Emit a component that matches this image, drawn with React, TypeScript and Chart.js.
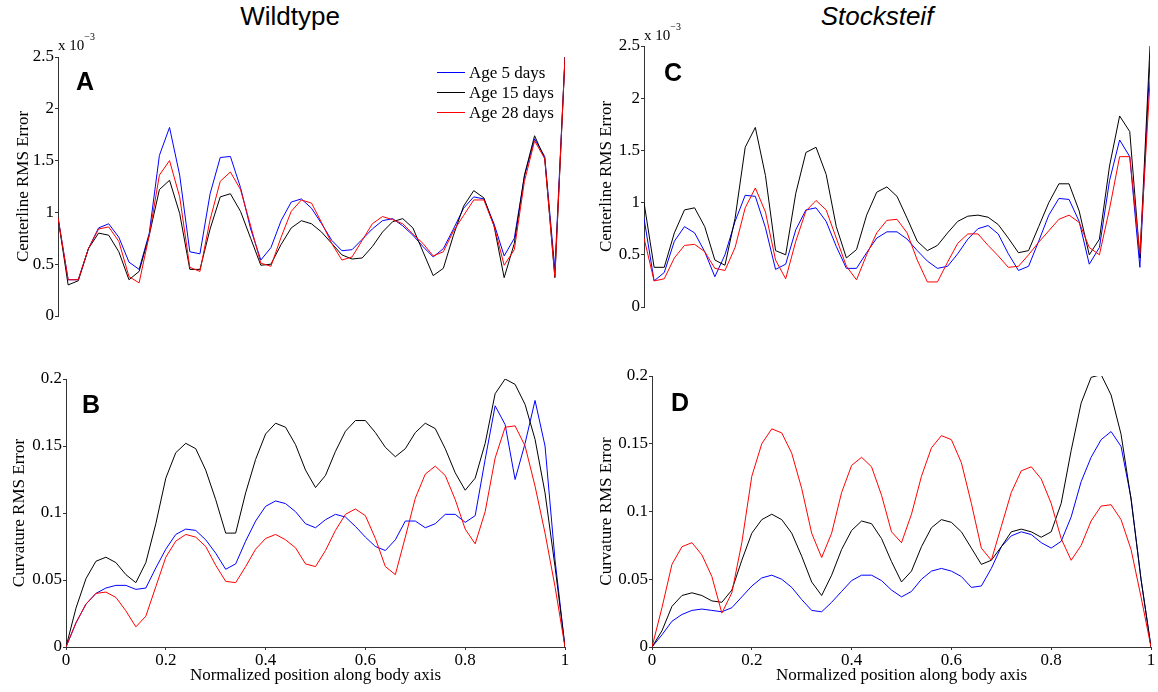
import React, { useEffect, useRef } from "react";
import { Chart, registerables } from "chart.js";

Chart.register(...registerables);

// Normalized position along body axis (x values of every series)
const positions = [
  0, 0.02, 0.04, 0.06, 0.08, 0.1, 0.12, 0.14, 0.16, 0.18,
  0.2, 0.22, 0.24, 0.26, 0.28, 0.3, 0.32, 0.34, 0.36, 0.38,
  0.4, 0.42, 0.44, 0.46, 0.48, 0.5, 0.52, 0.54, 0.56, 0.58,
  0.6, 0.62, 0.64, 0.66, 0.68, 0.7, 0.72, 0.74, 0.76, 0.78,
  0.8, 0.82, 0.84, 0.86, 0.88, 0.9, 0.92, 0.94, 0.96, 0.98, 1,
];

const seriesLabels = ["Age 5 days", "Age 15 days", "Age 28 days"];

// Panel A: Wildtype, centerline RMS error (x 10^-3)
const wtCenterAge5 = [
  0.95, 0.35, 0.35, 0.65, 0.85, 0.89, 0.76, 0.52, 0.45, 0.80,
  1.55, 1.82, 1.36, 0.62, 0.60, 1.18, 1.53, 1.54, 1.24, 0.84,
  0.54, 0.66, 0.92, 1.10, 1.13, 1.04, 0.89, 0.73, 0.63, 0.64,
  0.74, 0.84, 0.92, 0.94, 0.87, 0.78, 0.67, 0.57, 0.65, 0.84,
  1.04, 1.15, 1.13, 0.89, 0.58, 0.75, 1.35, 1.71, 1.54, 0.45, 2.5,
];
const wtCenterAge15 = [
  0.95, 0.30, 0.34, 0.65, 0.80, 0.78, 0.62, 0.35, 0.43, 0.78,
  1.22, 1.31, 0.99, 0.45, 0.45, 0.84, 1.15, 1.18, 1.01, 0.75,
  0.49, 0.50, 0.69, 0.85, 0.92, 0.89, 0.81, 0.70, 0.59, 0.55,
  0.56, 0.67, 0.81, 0.91, 0.94, 0.85, 0.62, 0.39, 0.46, 0.78,
  1.06, 1.21, 1.14, 0.87, 0.37, 0.70, 1.36, 1.74, 1.52, 0.37, 2.5,
];
const wtCenterAge28 = [
  0.95, 0.35, 0.35, 0.65, 0.84, 0.86, 0.72, 0.38, 0.32, 0.78,
  1.36, 1.50, 1.15, 0.47, 0.43, 0.93, 1.30, 1.39, 1.22, 0.87,
  0.51, 0.48, 0.76, 1.01, 1.12, 1.09, 0.90, 0.70, 0.54, 0.57,
  0.73, 0.89, 0.96, 0.93, 0.89, 0.79, 0.70, 0.58, 0.62, 0.82,
  0.97, 1.12, 1.12, 0.87, 0.49, 0.64, 1.30, 1.69, 1.52, 0.38, 2.5,
];

// Panel B: Wildtype, curvature RMS error
const wtCurvAge5 = [
  0, 0.018, 0.032, 0.040, 0.044, 0.046, 0.046, 0.043, 0.044, 0.059,
  0.073, 0.084, 0.088, 0.087, 0.080, 0.070, 0.058, 0.062, 0.079, 0.094,
  0.105, 0.109, 0.107, 0.101, 0.092, 0.089, 0.095, 0.099, 0.097, 0.090,
  0.082, 0.075, 0.072, 0.080, 0.094, 0.094, 0.089, 0.092, 0.099, 0.099,
  0.093, 0.098, 0.140, 0.180, 0.166, 0.125, 0.152, 0.184, 0.150, 0.065, 0,
];
const wtCurvAge15 = [
  0, 0.029, 0.051, 0.064, 0.067, 0.063, 0.054, 0.048, 0.063, 0.092,
  0.126, 0.145, 0.152, 0.148, 0.132, 0.110, 0.085, 0.085, 0.115, 0.140,
  0.159, 0.167, 0.164, 0.151, 0.132, 0.119, 0.128, 0.146, 0.161, 0.169,
  0.169, 0.160, 0.149, 0.142, 0.148, 0.160, 0.167, 0.163, 0.148, 0.130,
  0.117, 0.126, 0.152, 0.189, 0.200, 0.196, 0.181, 0.155, 0.115, 0.060, 0,
];
const wtCurvAge28 = [
  0, 0.018, 0.032, 0.040, 0.041, 0.037, 0.027, 0.015, 0.023, 0.045,
  0.067, 0.079, 0.084, 0.082, 0.075, 0.061, 0.049, 0.048, 0.060, 0.073,
  0.081, 0.084, 0.080, 0.074, 0.062, 0.060, 0.072, 0.087, 0.099, 0.103,
  0.098, 0.081, 0.060, 0.054, 0.082, 0.111, 0.129, 0.135, 0.128, 0.110,
  0.088, 0.077, 0.101, 0.141, 0.164, 0.165, 0.150, 0.120, 0.085, 0.045, 0,
];

// Panel C: Stocksteif, centerline RMS error (x 10^-3)
const stCenterAge5 = [
  0.85, 0.25, 0.33, 0.63, 0.77, 0.71, 0.53, 0.29, 0.50, 0.82,
  1.07, 1.06, 0.76, 0.36, 0.41, 0.74, 0.93, 0.95, 0.82, 0.58,
  0.37, 0.37, 0.52, 0.66, 0.72, 0.72, 0.65, 0.54, 0.44, 0.37,
  0.39, 0.51, 0.65, 0.75, 0.78, 0.70, 0.51, 0.35, 0.39, 0.63,
  0.88, 1.04, 1.03, 0.82, 0.41, 0.57, 1.21, 1.60, 1.44, 0.38, 2.37,
];
const stCenterAge15 = [
  1.00, 0.38, 0.38, 0.71, 0.93, 0.95, 0.77, 0.45, 0.40, 0.85,
  1.53, 1.72, 1.26, 0.54, 0.50, 1.09, 1.48, 1.53, 1.27, 0.77,
  0.47, 0.55, 0.88, 1.10, 1.15, 1.06, 0.85, 0.63, 0.54, 0.59,
  0.71, 0.82, 0.87, 0.88, 0.86, 0.79, 0.66, 0.52, 0.54, 0.77,
  1.00, 1.18, 1.18, 0.92, 0.50, 0.65, 1.35, 1.83, 1.68, 0.47, 2.5,
];
const stCenterAge28 = [
  0.66, 0.25, 0.27, 0.47, 0.59, 0.60, 0.53, 0.37, 0.35, 0.57,
  0.95, 1.14, 0.91, 0.45, 0.27, 0.63, 0.92, 1.02, 0.93, 0.66,
  0.39, 0.26, 0.50, 0.71, 0.83, 0.84, 0.71, 0.45, 0.24, 0.24,
  0.43, 0.61, 0.70, 0.70, 0.59, 0.49, 0.38, 0.39, 0.50, 0.62,
  0.73, 0.84, 0.88, 0.81, 0.57, 0.50, 0.94, 1.44, 1.44, 0.51, 2.16,
];

// Panel D: Stocksteif, curvature RMS error
const stCurvAge5 = [
  0, 0.009, 0.019, 0.024, 0.027, 0.028, 0.027, 0.026, 0.029, 0.037,
  0.045, 0.051, 0.053, 0.050, 0.044, 0.035, 0.027, 0.026, 0.033, 0.041,
  0.049, 0.053, 0.053, 0.049, 0.042, 0.037, 0.041, 0.050, 0.056, 0.058,
  0.056, 0.052, 0.044, 0.045, 0.058, 0.074, 0.082, 0.085, 0.083, 0.077,
  0.073, 0.078, 0.096, 0.122, 0.140, 0.153, 0.159, 0.148, 0.110, 0.050, 0,
];
const stCurvAge15 = [
  0, 0.012, 0.030, 0.038, 0.040, 0.038, 0.034, 0.033, 0.042, 0.064,
  0.084, 0.094, 0.098, 0.094, 0.084, 0.067, 0.048, 0.038, 0.053, 0.072,
  0.086, 0.093, 0.091, 0.080, 0.063, 0.048, 0.056, 0.074, 0.088, 0.094,
  0.092, 0.085, 0.073, 0.061, 0.064, 0.074, 0.085, 0.087, 0.085, 0.081,
  0.085, 0.106, 0.145, 0.180, 0.199, 0.201, 0.186, 0.157, 0.109, 0.050, 0,
];
const stCurvAge28 = [
  0, 0.029, 0.061, 0.074, 0.077, 0.068, 0.052, 0.025, 0.040, 0.077,
  0.126, 0.150, 0.161, 0.158, 0.143, 0.117, 0.084, 0.066, 0.084, 0.114,
  0.134, 0.140, 0.133, 0.112, 0.085, 0.077, 0.098, 0.126, 0.147, 0.156,
  0.153, 0.136, 0.106, 0.073, 0.064, 0.089, 0.114, 0.130, 0.133, 0.124,
  0.106, 0.080, 0.064, 0.075, 0.093, 0.104, 0.105, 0.094, 0.072, 0.037, 0,
];

const SERIF = '"Liberation Serif", "Times New Roman", serif';
const SANS = '"Liberation Sans", Arial, sans-serif';
const COLORS = ["#0000ff", "#000000", "#ff0000"];
const AXIS_COLOR = "#333333";

const fmt = (v: number | string) => String(parseFloat(Number(v).toFixed(4)));

type Area = { l: number; t: number; r: number; b: number };
type PanelProps = {
  area: Area;
  yMax: number;
  yStep: number;
  yTitle: string;
  yTitleOffset: number;
  showX: boolean;
  values: number[][];
};

const PAD_L = 60;
const PAD_T = 15;
const PAD_R = 15;

function Panel({ area, yMax, yStep, yTitle, yTitleOffset, showX, values }: PanelProps) {
  const ref = useRef<HTMLCanvasElement | null>(null);
  const bottomH = showX ? 45 : 12;
  const w = area.r - area.l + PAD_L + PAD_R;
  const h = area.b - area.t + PAD_T + bottomH;

  useEffect(() => {
    if (!ref.current) return;
    const datasets = values.map((vals, k) => ({
      label: seriesLabels[k],
      data: positions.map((x, i) => ({ x, y: vals[i] })),
      borderColor: COLORS[k],
      backgroundColor: COLORS[k],
      borderWidth: 1,
      pointRadius: 0,
      fill: false,
      tension: 0,
      order: 2 - k,
    }));
    const chart = new Chart(ref.current, {
      type: "line",
      data: { datasets },
      options: {
        responsive: false,
        animation: false,
        devicePixelRatio: 1,
        layout: { padding: { left: 0, top: PAD_T, right: PAD_R, bottom: showX ? 0 : bottomH } },
        plugins: { legend: { display: false }, tooltip: { enabled: false } },
        scales: {
          x: {
            type: "linear",
            min: 0,
            max: 1,
            display: showX,
            afterFit: (s: any) => {
              s.height = bottomH;
            },
            ticks: {
              stepSize: 0.2,
              callback: (v: any) => fmt(v),
              font: { family: SERIF, size: 17 },
              color: "#000",
              padding: 0,
              maxRotation: 0,
              autoSkip: false,
            },
            grid: { drawOnChartArea: false, tickLength: 3, color: AXIS_COLOR },
            border: { color: AXIS_COLOR, width: 1 },
            title: {
              display: true,
              text: "Normalized position along body axis",
              font: { family: SERIF, size: 17 },
              color: "#000",
              padding: { top: 0, bottom: 6 },
            },
          },
          y: {
            type: "linear",
            min: 0,
            max: yMax,
            afterFit: (s: any) => {
              s.width = PAD_L;
            },
            ticks: {
              stepSize: yStep,
              callback: (v: any) => fmt(v),
              font: { family: SERIF, size: 17 },
              color: "#000",
              padding: 1,
              autoSkip: false,
            },
            grid: { drawOnChartArea: false, tickLength: 3, color: AXIS_COLOR },
            border: { color: AXIS_COLOR, width: 1 },
            title: {
              display: true,
              text: yTitle,
              font: { family: SERIF, size: 17 },
              color: "#000",
              padding: { top: yTitleOffset, bottom: 0 },
            },
          },
        },
      },
    } as any);
    return () => chart.destroy();
  }, []);

  return (
    <canvas
      ref={ref}
      width={w}
      height={h}
      style={{ position: "absolute", left: area.l - PAD_L, top: area.t - PAD_T, width: w, height: h }}
    />
  );
}

const textBase: React.CSSProperties = { position: "absolute", lineHeight: 1, whiteSpace: "nowrap", color: "#000" };

function Exponent({ left, top }: { left: number; top: number }) {
  return (
    <div style={{ ...textBase, left, top, fontFamily: SERIF, fontSize: 15 }}>
      x 10
      <span style={{ fontSize: 10, position: "relative", top: -10 }}>−3</span>
    </div>
  );
}

function PanelLetter({ text, left, top }: { text: string; left: number; top: number }) {
  return (
    <div style={{ ...textBase, left, top, fontFamily: SANS, fontSize: 25, fontWeight: "bold" }}>{text}</div>
  );
}

function Legend() {
  const rows = [72, 92, 112];
  return (
    <>
      {rows.map((y, k) => (
        <React.Fragment key={k}>
          <div style={{ position: "absolute", left: 437, top: y, width: 28, height: 1, background: COLORS[k] }} />
          <div style={{ ...textBase, left: 469, top: y - 8, fontFamily: SERIF, fontSize: 17 }}>{seriesLabels[k]}</div>
        </React.Fragment>
      ))}
    </>
  );
}

export default function App() {
  return (
    <div
      style={{
        position: "fixed",
        left: 0,
        top: 0,
        width: 1158,
        height: 692,
        background: "#fff",
        overflow: "hidden",
      }}
    >
      <Panel
        area={{ l: 58, t: 57, r: 565, b: 328 }}
        yMax={2.5}
        yStep={0.5}
        yTitle="Centerline RMS Error"
        yTitleOffset={15}
        showX={false}
        values={[wtCenterAge5, wtCenterAge15, wtCenterAge28]}
      />
      <Panel
        area={{ l: 66, t: 379, r: 565, b: 647 }}
        yMax={0.2}
        yStep={0.05}
        yTitle="Curvature RMS Error"
        yTitleOffset={3}
        showX={true}
        values={[wtCurvAge5, wtCurvAge15, wtCurvAge28]}
      />
      <Panel
        area={{ l: 644, t: 46, r: 1150, b: 319 }}
        yMax={2.5}
        yStep={0.5}
        yTitle="Centerline RMS Error"
        yTitleOffset={12}
        showX={false}
        values={[stCenterAge5, stCenterAge15, stCenterAge28]}
      />
      <Panel
        area={{ l: 652, t: 376, r: 1151, b: 647 }}
        yMax={0.2}
        yStep={0.05}
        yTitle="Curvature RMS Error"
        yTitleOffset={4}
        showX={true}
        values={[stCurvAge5, stCurvAge15, stCurvAge28]}
      />

      <div style={{ ...textBase, left: 290, top: 3, transform: "translateX(-50%)", fontFamily: SANS, fontSize: 26 }}>
        Wildtype
      </div>
      <div
        style={{
          ...textBase,
          left: 877,
          top: 3,
          transform: "translateX(-50%)",
          fontFamily: SANS,
          fontSize: 26,
          fontStyle: "italic",
        }}
      >
        Stocksteif
      </div>

      <Exponent left={58} top={38} />
      <Exponent left={644} top={28} />

      <PanelLetter text="A" left={76} top={69} />
      <PanelLetter text="B" left={82} top={392} />
      <PanelLetter text="C" left={664} top={60} />
      <PanelLetter text="D" left={671} top={390} />

      <Legend />
    </div>
  );
}
